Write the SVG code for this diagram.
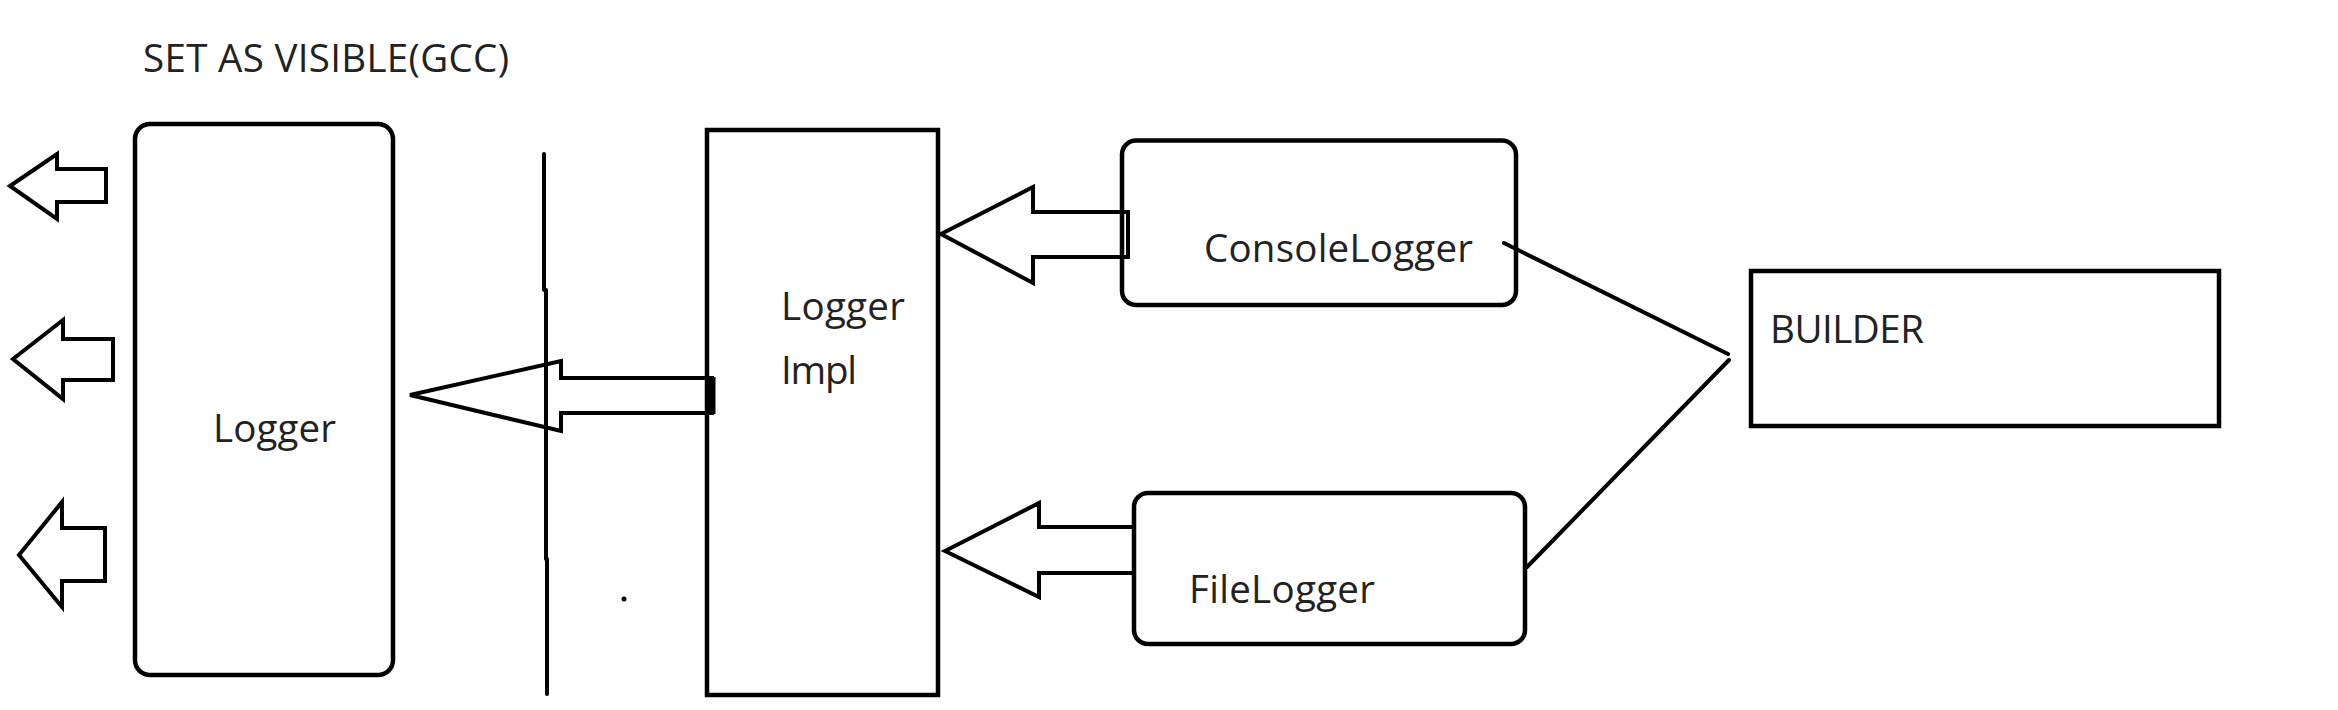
<svg xmlns="http://www.w3.org/2000/svg" width="2338" height="710" viewBox="0 0 2338 710">
<style>
.box{fill:none;stroke:#000;stroke-width:4.5}
.arr{fill:none;stroke:#000;stroke-width:4;stroke-linejoin:miter}
.ln{fill:none;stroke:#000;stroke-width:4;stroke-linecap:round}
.t{font-family:"Open Sans","Noto Sans",sans-serif;font-size:38.5px;fill:#222}
</style>
<rect width="2338" height="710" fill="#fff"/>
<text class="t" x="143" y="72" textLength="366" lengthAdjust="spacing">SET AS VISIBLE(GCC)</text>
<g id="logger">
<rect class="box" x="135" y="124" width="258" height="551" rx="15"/>
<text class="t" x="213" y="442" textLength="123" lengthAdjust="spacing">Logger</text>
</g>
<g id="logger-impl">
<rect class="box" x="707" y="130" width="231" height="565"/>
<text class="t" x="781" y="320" textLength="124" lengthAdjust="spacing">Logger</text>
<text class="t" x="781" y="384" textLength="76" lengthAdjust="spacing">Impl</text>
</g>
<g id="console-logger">
<rect class="box" x="1122" y="140.5" width="394" height="164.5" rx="14"/>
<text class="t" x="1204" y="262" textLength="269" lengthAdjust="spacing">ConsoleLogger</text>
</g>
<g id="file-logger">
<rect class="box" x="1134" y="493" width="391" height="151" rx="14"/>
<text class="t" x="1189" y="603" textLength="186" lengthAdjust="spacing">FileLogger</text>
</g>
<g id="builder">
<rect class="box" x="1751" y="271" width="468" height="155"/>
<text class="t" x="1770" y="343" textLength="154" lengthAdjust="spacing">BUILDER</text>
</g>
<g id="divider">
<line class="ln" x1="544" y1="154" x2="544" y2="290"/>
<line class="ln" x1="546" y1="290" x2="546" y2="559"/>
<line class="ln" x1="547" y1="559" x2="547" y2="694"/>
<circle cx="624" cy="599" r="2.5" fill="#000"/>
</g>
<g id="connectors">
<polygon class="arr" points="10,186 57,154 57,169 106,169 106,202 57,202 57,219"/>
<polygon class="arr" points="13,359 63,320 63,339 113,339 113,380 63,380 63,399"/>
<polygon class="arr" points="19,555 62,502 62,528 105,528 105,581 62,581 62,607"/>
<polygon class="arr" points="410,395 561,361 561,378 712,378 712,413 561,413 561,431"/>
<line x1="712" y1="377" x2="712" y2="414" stroke="#000" stroke-width="7"/>
<polygon class="arr" points="941,234 1033,187 1033,212 1128,212 1128,257 1033,257 1033,283"/>
<polygon class="arr" points="945,551 1039,503 1039,527 1134,527 1134,573 1039,573 1039,597"/>
<line class="ln" x1="1504" y1="243" x2="1728" y2="354" stroke-width="3.5"/>
<line class="ln" x1="1729" y1="360" x2="1527" y2="567" stroke-width="3.5"/>
</g>
</svg>
